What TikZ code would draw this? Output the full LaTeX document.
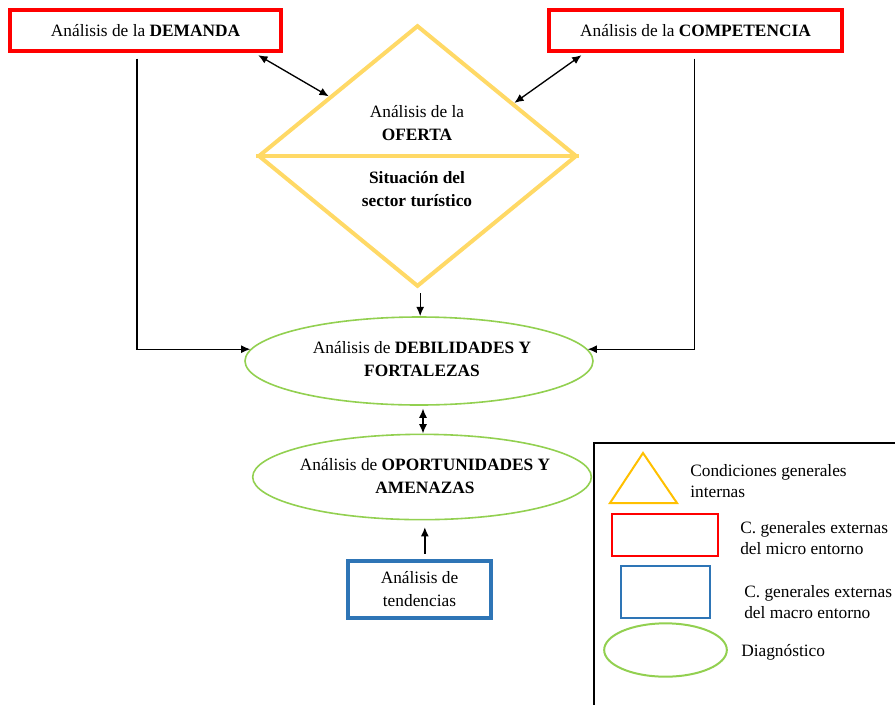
\documentclass[tikz,border=0pt]{standalone}
\usepackage{fontspec}
\setmainfont{Liberation Serif}
\usetikzlibrary{arrows.meta, positioning, calc, shapes.geometric}

\definecolor{rojo}{HTML}{FF0000}
\definecolor{oro}{HTML}{FFD966}
\definecolor{ambar}{HTML}{FFC000}
\definecolor{verde}{HTML}{92D050}
\definecolor{azul}{HTML}{2E75B6}

\begin{document}
\begin{tikzpicture}[x=0.75pt, y=-0.75pt,
    txt/.style={font=\fontsize{13}{17.25}\selectfont, align=center, inner sep=0pt},
    micro/.style={txt, draw=rojo, line width=3pt, minimum height=31pt},
    macro/.style={txt, draw=azul, line width=3pt},
    interna/.style={draw=oro, line width=3pt, shape=diamond, inner sep=0pt},
    diag/.style={draw=verde, line width=1.2pt, ellipse, inner sep=0pt},
    flecha/.style={line width=1pt, -{Latex[length=7pt, width=6pt]}},
    doble/.style={line width=1pt, {Latex[length=7pt, width=6pt]}-{Latex[length=7pt, width=6pt]}},
    legtxt/.style={font=\fontsize{13}{16}\selectfont, align=left, anchor=west, inner sep=0pt}]
    \useasboundingbox (0,0) rectangle (895,704);

    % Entorno y oferta
    \node[micro, minimum width=203pt] (demanda) at (145.5,30.5) {Análisis de la \textbf{DEMANDA}};
    \node[micro, minimum width=220pt] (competencia) at (695.5,30.5) {Análisis de la \textbf{COMPETENCIA}};
    \node[interna, minimum width=239pt, minimum height=196pt] (oferta) at (417.5,156) {};
    \draw[oro, line width=3pt] (oferta.west) -- (oferta.east);
    \node[txt] (ofertatxt) at (417,123) {Análisis de la\\\textbf{OFERTA}};
    \node[txt, font=\fontsize{13}{17.25}\selectfont\bfseries] (sector) at (417,189) {Situación del\\sector turístico};

    % Diagnostico
    \node[diag, minimum width=261pt, minimum height=66pt] (debil) at (419,361) {};
    \node[txt] (debiltxt) at (422,359) {Análisis de \textbf{DEBILIDADES Y}\\\textbf{FORTALEZAS}};
    \node[diag, minimum width=254pt, minimum height=64pt] (oport) at (422,477) {};
    \node[txt] (oporttxt) at (425,476) {Análisis de \textbf{OPORTUNIDADES Y}\\\textbf{AMENAZAS}};
    \node[macro, minimum width=107pt, minimum height=43pt] (tend) at (419.5,589.5) {Análisis de\\tendencias};

    % Flechas
    \draw[doble] ([xshift=-18.5pt,yshift=-1.5pt]demanda.south east) -- ($(oferta.west)!0.45!(oferta.north)$);
    \draw[doble] ([xshift=26pt,yshift=-1.5pt]competencia.south west) -- ($(oferta.north)!0.6!(oferta.east)$);
    \draw[flecha] ([xshift=-6.5pt,yshift=-4pt]demanda.south) |- (debil.176);
    \draw[flecha] ([xshift=-1pt,yshift=-4pt]competencia.south) |- (debil.4);
    \draw[flecha] ([xshift=2pt,yshift=-3.5pt]oferta.south) -- ([xshift=2pt]oferta.south |- debil.north);
    \draw[doble] ([xshift=3pt,yshift=-2pt]debil.south) -- ([xshift=3pt]debil.south |- oport.north);
    \draw[flecha] ([xshift=4pt,yshift=4pt]tend.north) -- ([xshift=4pt,yshift=-5pt]tend.north |- oport.south);

    % Leyenda
    \draw[line width=2.2pt] (594,714) -- (594,443) -- (905,443);
    \draw[ambar, line width=1.5pt] (610,503) -- (643,453) -- (677,503) -- cycle;
    \node[legtxt] (leginterna) at (690,481) {Condiciones generales\\internas};
    \node[draw=rojo, line width=1.5pt, minimum width=79.5pt, minimum height=31.5pt] (legmicro) at (665,535) {};
    \node[legtxt] (legmicrotxt) at (740,538) {C. generales externas\\del micro entorno};
    \node[draw=azul, line width=1.5pt, minimum width=67pt, minimum height=39pt] (legmacro) at (665.5,592) {};
    \node[legtxt] (legmacrotxt) at (744,602) {C. generales externas\\del macro entorno};
    \node[draw=verde, line width=1.5pt, ellipse, minimum width=92pt, minimum height=40pt] (legdiag) at (665.5,650) {};
    \node[legtxt] (legdiagtxt) at (741,652) {Diagnóstico};
\end{tikzpicture}
\end{document}
